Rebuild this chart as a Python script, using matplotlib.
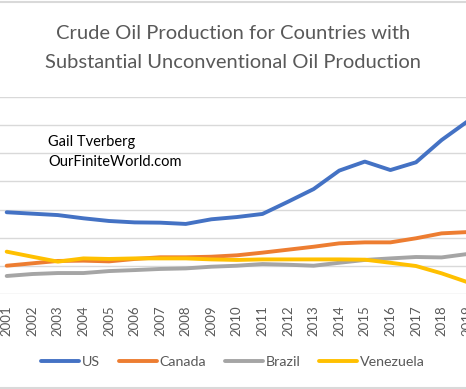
import numpy as np
import matplotlib
matplotlib.use('Agg')
import matplotlib.pyplot as plt
from matplotlib.lines import Line2D

# данные (млн баррелей в сутки)
years = list(range(2001, 2020))
us = [5.81, 5.71, 5.61, 5.38, 5.19, 5.09, 5.07, 4.98, 5.31, 5.47,
      5.69, 6.56, 7.46, 8.77, 9.41, 8.81, 9.36, 10.94, 12.25]
canada = [2.01, 2.18, 2.35, 2.37, 2.32, 2.49, 2.61, 2.61, 2.65, 2.75,
          2.94, 3.15, 3.36, 3.60, 3.67, 3.67, 3.96, 4.31, 4.40]
brazil = [1.28, 1.42, 1.49, 1.49, 1.63, 1.70, 1.78, 1.82, 1.94, 2.01,
          2.13, 2.08, 2.01, 2.22, 2.42, 2.53, 2.63, 2.60, 2.84]
venezuela = [3.01, 2.65, 2.30, 2.53, 2.49, 2.53, 2.53, 2.53, 2.46, 2.42,
             2.46, 2.46, 2.46, 2.46, 2.44, 2.22, 1.99, 1.47, 0.85]

series = [('US', us, '#4472C4'), ('Canada', canada, '#ED7D31'),
          ('Brazil', brazil, '#A5A5A5'), ('Venezuela', venezuela, '#FFC000')]

plt.rcParams['font.family'] = ['Lato', 'DejaVu Sans']

fig = plt.figure(figsize=(4.66, 3.89), dpi=100)
# картинка обрезана: подписи оси Y и 2019 год уходят за край
ax = fig.add_axes([-0.0131, 0.2442, 1.043, 0.5064])

for name, vals, color in series:
    ax.plot(years, vals, color=color, lw=2.8, label=name, solid_capstyle='round')

ax.set_xlim(2000.5, 2019.5)
ax.set_ylim(0, 14)
ax.set_yticks(np.arange(0, 15, 2))
ax.set_xticks(years)
ax.set_xticklabels([str(y) for y in years], rotation=90, fontsize=9.5, color='#595959')
ax.tick_params(axis='x', length=0, pad=8)
ax.tick_params(axis='y', length=0, labelleft=False)
ax.grid(axis='y', color='#D9D9D9', lw=1)
ax.set_axisbelow(True)
for s in ax.spines.values():
    s.set_visible(False)

fig.text(0.5, 0.915, 'Crude Oil Production for Countries with', ha='center', va='center',
         fontsize=14.5, color='#595959')
fig.text(0.5, 0.840, 'Substantial Unconventional Oil Production', ha='center', va='center',
         fontsize=14.5, color='#595959')

fig.text(0.103, 0.635, 'Gail Tverberg', ha='left', va='center', fontsize=10.5, color='black')
fig.text(0.103, 0.584, 'OurFiniteWorld.com', ha='left', va='center', fontsize=10.5, color='black')

leg = fig.legend(loc='center', bbox_to_anchor=(0.5, 0.069), ncol=4, frameon=False,
                 fontsize=10.3, handlelength=2.66, handletextpad=0.2, columnspacing=1.3)
for t in leg.get_texts():
    t.set_color('#595959')

# рамка диаграммы сверху и снизу
fig.add_artist(Line2D([0, 1], [0.996, 0.996], color='#D9D9D9', lw=1.5))
fig.add_artist(Line2D([0, 1], [0.003, 0.003], color='#D9D9D9', lw=1.5))

fig.savefig('out.png', dpi=100)
